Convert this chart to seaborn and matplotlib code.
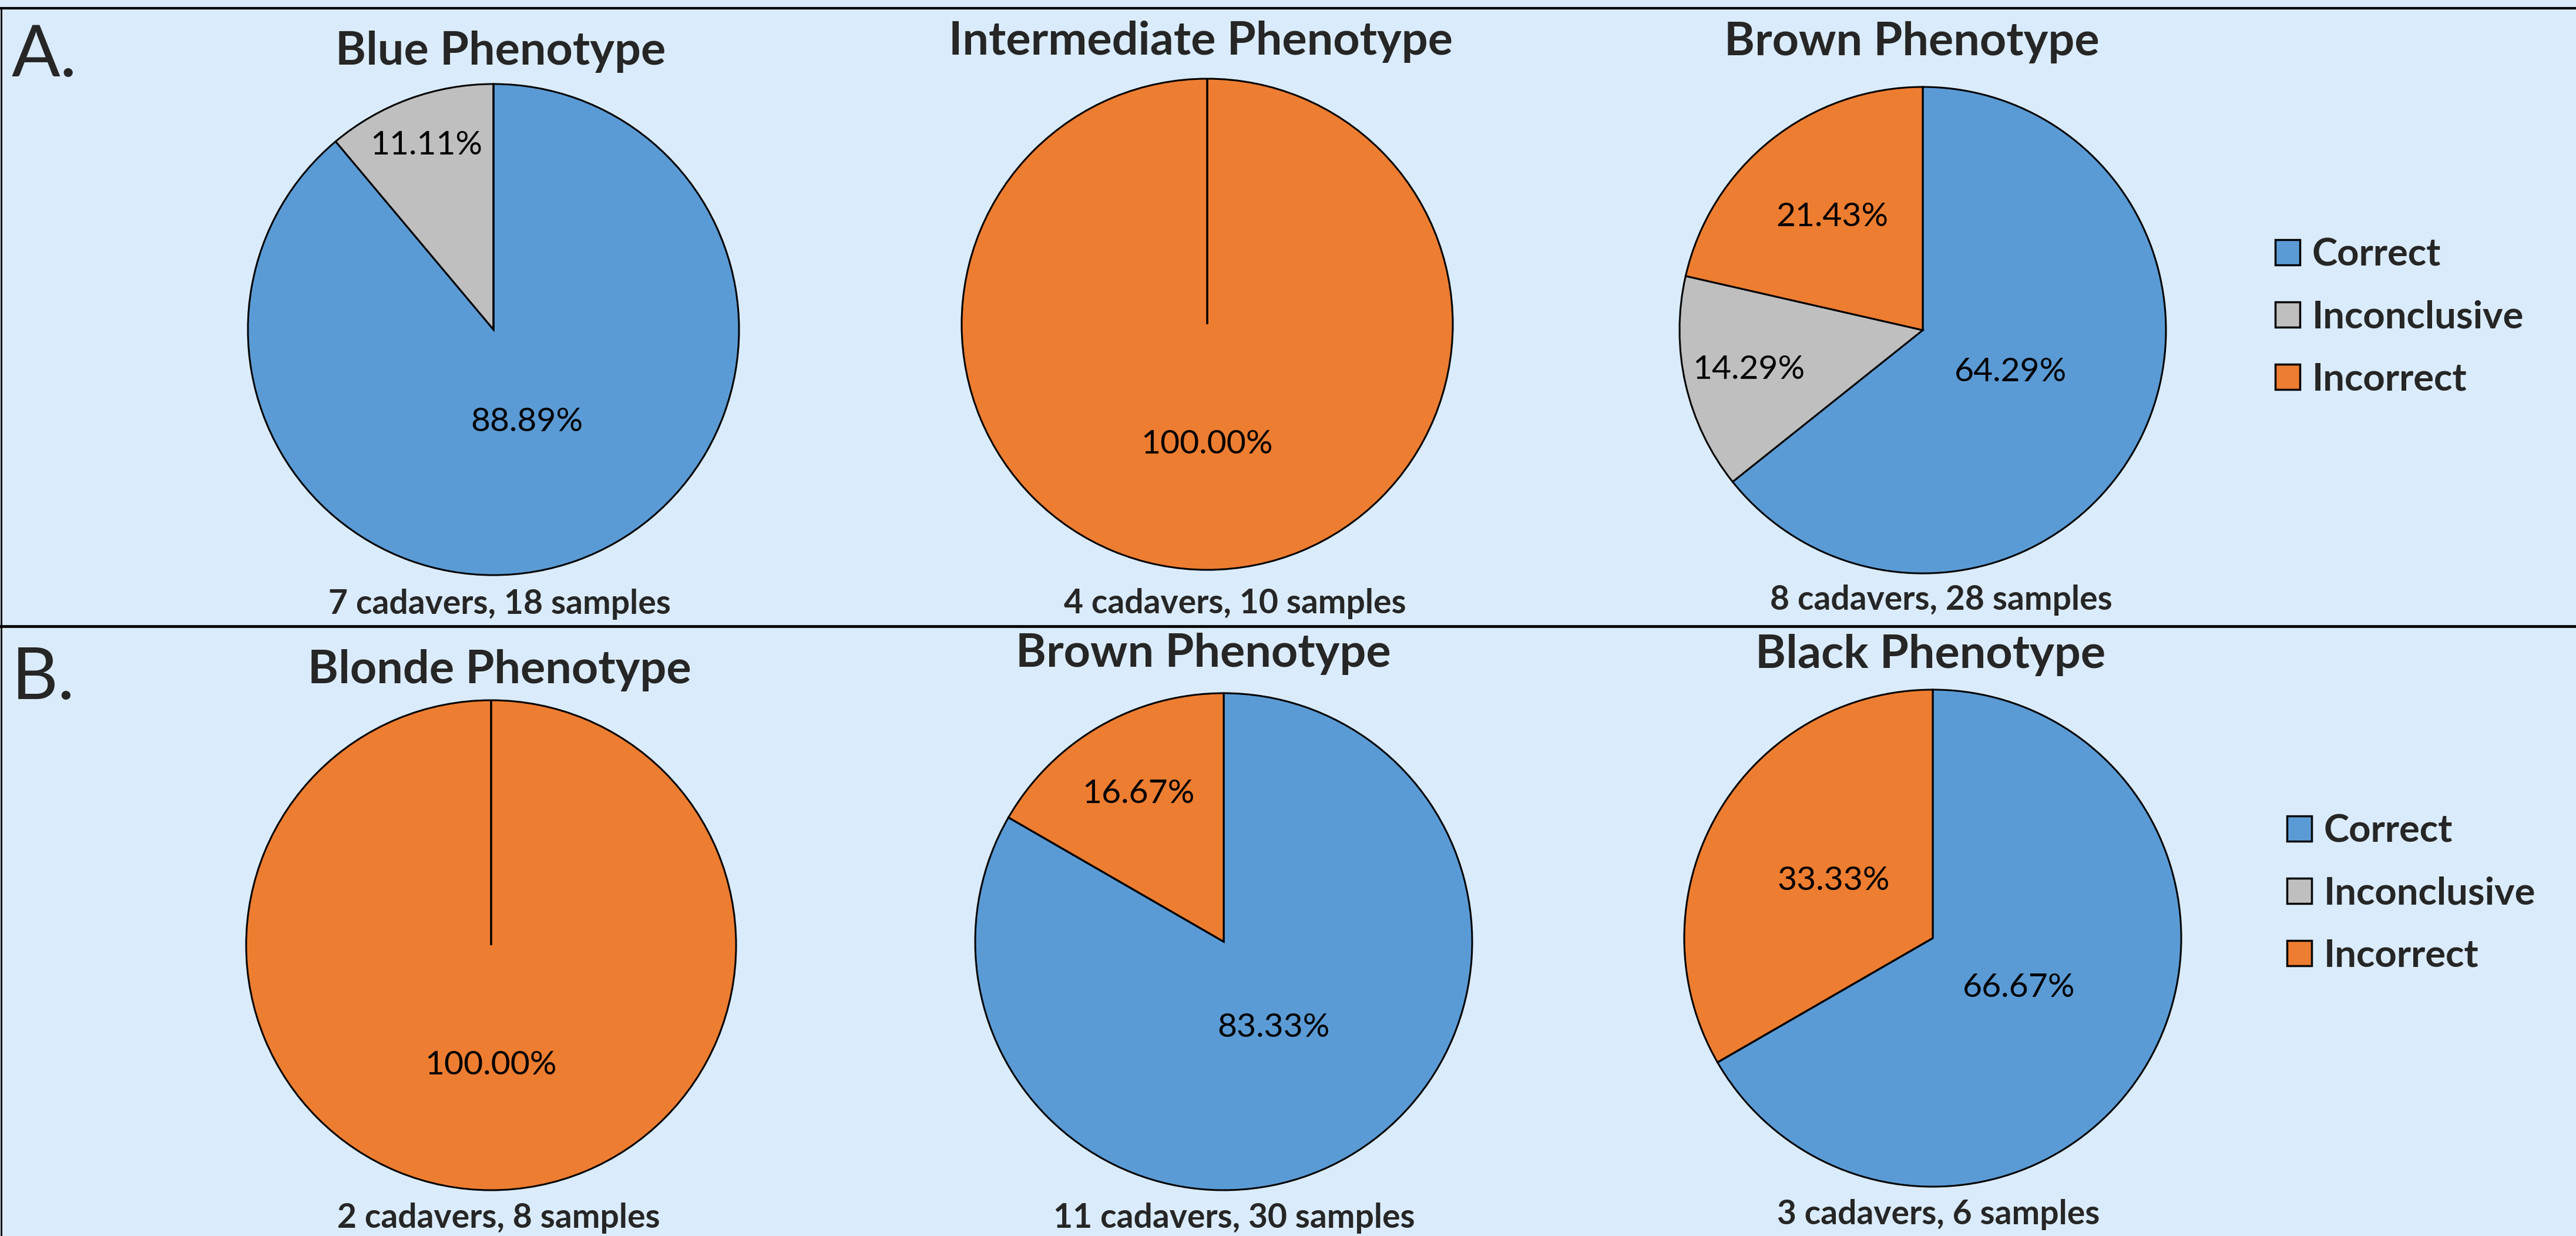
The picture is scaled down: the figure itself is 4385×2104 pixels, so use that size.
import numpy as np
import matplotlib
matplotlib.use("Agg")
import matplotlib.pyplot as plt
from matplotlib.patches import Patch
from matplotlib.lines import Line2D
import seaborn as sns

# dados (percentuais por fenótipo)
categorias = ["Correct", "Inconclusive", "Incorrect"]

olho_titulos = ["Blue Phenotype", "Intermediate Phenotype", "Brown Phenotype"]
olho_correct = [88.89, 0.0, 64.29]
olho_inconclusive = [11.11, 0.0, 14.29]
olho_incorrect = [0.0, 100.0, 21.43]
olho_amostras = ["7 cadavers, 18 samples", "4 cadavers, 10 samples", "8 cadavers, 28 samples"]

cabelo_titulos = ["Blonde Phenotype", "Brown Phenotype", "Black Phenotype"]
cabelo_correct = [0.0, 83.33, 66.67]
cabelo_inconclusive = [0.0, 0.0, 0.0]
cabelo_incorrect = [100.0, 16.67, 33.33]
cabelo_amostras = ["2 cadavers, 8 samples", "11 cadavers, 30 samples", "3 cadavers, 6 samples"]

cores = ["#5B9BD5", "#BFBFBF", "#ED7D31"]
fundo = "#DAEBFC"

sns.set_style("white")
plt.rcParams["font.family"] = ["Lato", "DejaVu Sans"]

W, H = 4385, 2104
fig = plt.figure(figsize=(W / 100, H / 100), dpi=100, facecolor=fundo)


def fx(x):
    return x / W


def fy(y):
    return 1 - y / H


# layout em pixels: (centro x, centro y, raio)
pizzas_a = [(840, 561, 418), (2055, 552, 418), (3273, 562, 414)]
pizzas_b = [(836, 1609, 417), (2083, 1603, 423), (3290, 1597, 423)]
titulos_a = [(852, 110), (2044, 93), (3254, 94)]
titulos_b = [(850, 1163), (2048, 1135), (3286, 1137)]
rodape_a = [(850, 1045), (2102, 1044), (3304, 1038)]
rodape_b = [(849, 2090), (2101, 2090), (3300, 2084)]


def desenha_pizza(valores, cx, cy, r):
    ax = fig.add_axes([fx(cx - r), fy(cy + r), 2 * r / W, 2 * r / H])
    ax.set_facecolor("none")
    wedges, _ = ax.pie(valores, colors=cores, startangle=90, counterclock=False,
                       wedgeprops=dict(edgecolor="black", linewidth=2.2, clip_on=False))
    total = sum(valores)
    for w, v in zip(wedges, valores):
        if v == 0:
            # fatia vazia: só a linha radial no topo
            w.set_zorder(5)
            continue
        frac = v / total
        ang = np.deg2rad((w.theta1 + w.theta2) / 2)
        d = np.interp(frac, [0.11, 0.21, 0.33, 0.6, 0.9, 1.0],
                      [0.8, 0.6, 0.46, 0.4, 0.4, 0.49])
        ax.text(d * np.cos(ang), d * np.sin(ang), f"{v:.2f}%", ha="center",
                va="center", fontsize=41, color="black")
    ax.set_xlim(-1, 1)
    ax.set_ylim(-1, 1)
    ax.set_aspect("equal")
    ax.axis("off")


olho_valores = list(zip(olho_correct, olho_inconclusive, olho_incorrect))
cabelo_valores = list(zip(cabelo_correct, cabelo_inconclusive, cabelo_incorrect))

for vals, (cx, cy, r), t, (tx, ty), s, (sx, sy) in zip(olho_valores, pizzas_a, olho_titulos,
                                                       titulos_a, olho_amostras, rodape_a):
    desenha_pizza(vals, cx, cy, r)
    fig.text(fx(tx), fy(ty), t, ha="center", va="baseline", fontsize=57, fontweight="bold")
    fig.text(fx(sx), fy(sy), s, ha="center", va="baseline", fontsize=41, fontweight="bold")

for vals, (cx, cy, r), t, (tx, ty), s, (sx, sy) in zip(cabelo_valores, pizzas_b, cabelo_titulos,
                                                       titulos_b, cabelo_amostras, rodape_b):
    desenha_pizza(vals, cx, cy, r)
    fig.text(fx(tx), fy(ty), t, ha="center", va="baseline", fontsize=57, fontweight="bold")
    fig.text(fx(sx), fy(sy), s, ha="center", va="baseline", fontsize=41, fontweight="bold")

# letras dos painéis
fig.text(fx(20), fy(130), "A.", ha="left", va="baseline", fontsize=88)
fig.text(fx(20), fy(1190), "B.", ha="left", va="baseline", fontsize=88)

# linhas de borda
fig.add_artist(Line2D([0, 1], [fy(14), fy(14)], color="black", lw=3, transform=fig.transFigure))
fig.add_artist(Line2D([0, 1], [fy(1066), fy(1066)], color="black", lw=3.5, transform=fig.transFigure))
fig.add_artist(Line2D([fx(1.5), fx(1.5)], [0, fy(14)], color="black", lw=2, transform=fig.transFigure))

# legendas
handles = [Patch(facecolor=c, edgecolor="black", linewidth=2.5, label=l) for c, l in zip(cores, categorias)]
for lx, ly in [(3873, 540), (3893, 1521)]:
    fig.legend(handles=handles, loc="center left", bbox_to_anchor=(fx(lx), fy(ly)),
               frameon=False, borderpad=0, borderaxespad=0, handlelength=0.64,
               handleheight=0.63, handletextpad=0.32, labelspacing=0.72,
               prop=dict(size=47, weight="bold"))

fig.savefig("out.png", dpi=100, facecolor=fundo)
